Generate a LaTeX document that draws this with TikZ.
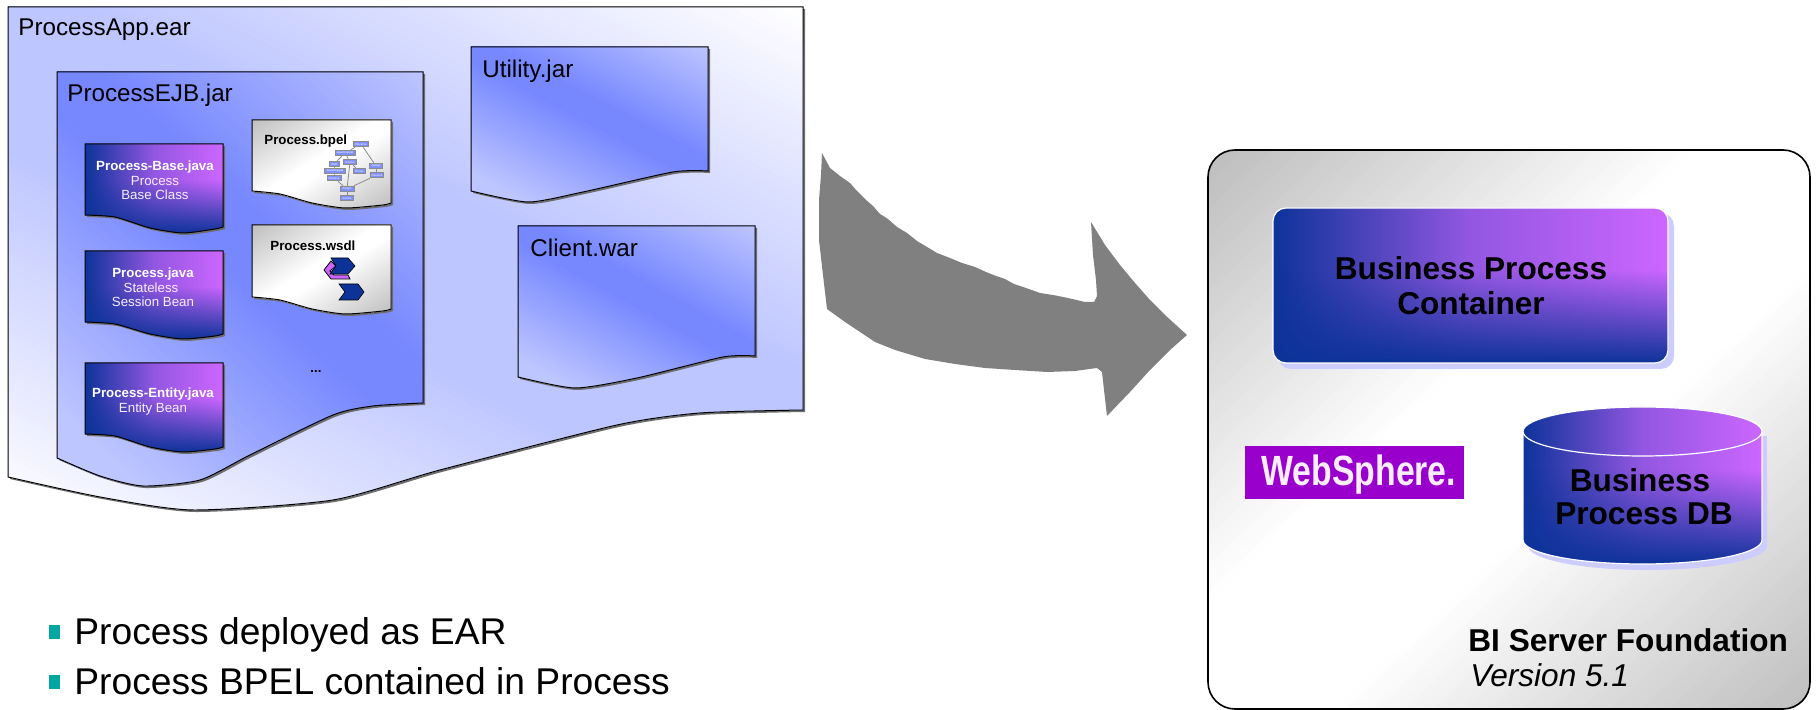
\documentclass[tikz,border=0pt]{standalone}
\usepackage{fontspec}
\setmainfont{Liberation Sans}
\usetikzlibrary{fadings}
\definecolor{navyc}{HTML}{0D3399}
\definecolor{purpc}{HTML}{CC66FF}
\definecolor{bandout}{HTML}{BEC6FF}
\definecolor{bandin}{HTML}{7788FF}
\definecolor{shadowc}{HTML}{6E6E6E}
\definecolor{lavc}{HTML}{CCCCFF}
\definecolor{tealc}{HTML}{00A6A0}
\definecolor{arrowc}{HTML}{808080}
\definecolor{wsc}{HTML}{9900CC}
\definecolor{minibox}{HTML}{7F8FFF}
\definecolor{greyc}{HTML}{BFBFBF}
\pgfdeclareverticalshading{softshade}{100bp}{color(0bp)=(white); color(25bp)=(white); color(55bp)=(black); color(75bp)=(black); color(100bp)=(black)}
\pgfdeclarefading{softfade}{\pgfuseshading{softshade}}
\tikzset{
  purple/.style={left color=navyc, right color=purpc, middle color=purpc!70!navyc},
  lbl/.style={inner sep=0pt, anchor=base west, text=black},
  ctr/.style={inner sep=0pt, anchor=base, text=black},
  big/.style={font=\fontsize{12.1pt}{14pt}\selectfont},
  small/.style={font=\fontsize{6.65pt}{8pt}\selectfont},
  smallb/.style={font=\fontsize{6.65pt}{8pt}\selectfont\bfseries},
  head/.style={font=\fontsize{15.8pt}{18pt}\selectfont\bfseries},
  bullet/.style={font=\fontsize{18.6pt}{22pt}\selectfont},
  tealsq/.style={fill=tealc, draw=none},
  mini/.style={draw=black!45, fill=minibox, line width=0.45pt, minimum width=#1*0.5pt, minimum height=2.8pt, inner sep=0pt, text=white, font=\fontsize{1.5pt}{2pt}\selectfont},
  minilink/.style={draw=black!45, line width=0.4pt}
}
% diagonal three-stop gradient painted band by band inside a clip:
% #1 path, #2 #3 centre, #4 #5 unit axis, #6 half length, #7 end colour, #8 middle colour, #9 plateau
\newcommand{\diagfill}[9]{%
  \begin{scope}
  \clip #1;
  \foreach \idx in {0,...,120}{%
    \pgfmathsetmacro\tval{-1+2*\idx/120}%
    \pgfmathsetmacro\pval{100*max(0,min(1,(abs(\tval)-#9)/(1-#9)))}%
    \pgfmathsetmacro\ax{#2+#4*#6*\tval}%
    \pgfmathsetmacro\ay{#3+#5*#6*\tval}%
    \fill[color=#7!\pval!#8] ({\ax-#5*1500},{\ay+#4*1500}) -- ({\ax+#5*1500},{\ay-#4*1500})
      -- ({\ax+#5*1500+#4*2000},{\ay-#4*1500+#5*2000}) -- ({\ax-#5*1500+#4*2000},{\ay+#4*1500+#5*2000}) -- cycle;
  }%
  \end{scope}}
\newcommand{\docshape}[9]{%
  \fill[shadowc, shift={(2,2)}] #1;
  \diagfill{#1}{#2}{#3}{#4}{#5}{#6}{#7}{#8}{#9}%
  \draw[black, line width=0.5pt] #1;
}
\newcommand{\purpledoc}[1]{%
  \fill[shadowc, shift={(2,2)}] #1;
  \shade[purple] #1;
  \fill[navyc, path fading=softfade] #1;
  \draw[black, line width=0.5pt] #1;
}
\newcommand{\wave}[5]{%
  (#1,#3) -- (#2,#3) -- (#2,#4) -- plot[smooth,tension=0.4] coordinates {(#2,#4) #5} -- cycle}
\begin{document}
\begin{tikzpicture}[x=0.5pt,y=-0.5pt]
\useasboundingbox (0,0) rectangle (1816,710);
% outer EAR
\docshape{\wave{8}{803}{7}{410}{(700,413) (617,425) (440,470) (333,500) (193,510) (100,497) (8,477)}}{405}{258}{-0.454}{0.891}{405}{white}{bandout}{0.2}
% EJB
\docshape{\wave{57}{423}{72}{403}{(373,406) (333,415) (250,455) (200,480) (143,486) (100,476) (57,458)}}{240}{237}{-0.67}{0.74}{250}{bandout}{bandin}{0.12}
% Utility
\docshape{\wave{471}{708}{47}{171}{(673,172) (583,192) (528,202) (471,191)}}{590}{109}{-0.464}{0.886}{112}{bandout}{bandin}{0.1}
% Client
\docshape{\wave{518}{755}{226}{356}{(723,357) (637,378) (575,388) (518,377)}}{636}{291}{-0.481}{0.877}{116}{bandout}{bandin}{0.1}
% Java docs
\purpledoc{\wave{85}{223}{144}{227}{(215,229) (183,233) (150,228) (115,217) (85,215)}}
\purpledoc{\wave{85}{223}{251}{334}{(215,336) (183,339) (150,334) (115,324) (85,322)}}
\purpledoc{\wave{85}{223}{363}{447}{(215,449) (183,452) (150,447) (115,436) (85,434)}}
% white docs
\docshape{\wave{252}{391}{120}{203}{(383,205) (345,208) (312,203) (280,194) (252,191)}}{321}{164}{0.536}{0.847}{74}{greyc}{white}{0.1}
\docshape{\wave{252}{391}{225}{309}{(383,311) (345,314) (312,309) (280,300) (252,297)}}{321}{270}{0.536}{0.847}{74}{greyc}{white}{0.1}
% texts in docs
\node[lbl,big] (ear) at (18,36) {ProcessApp.ear};
\node[lbl,big] (ejb) at (67,102) {ProcessEJB.jar};
\node[lbl,big] (util) at (482,78) {Utility.jar};
\node[lbl,big] (client) at (530,257) {Client.war};
\node[ctr,smallb,text=white] (b1) at (155,171) {Process-Base.java};
\node[ctr,small,text=white!88!purpc] (b2) at (155,185.5) {Process};
\node[ctr,small,text=white!88!purpc] (b3) at (155,199.5) {Base Class};
\node[ctr,smallb,text=white] (j1) at (153,278) {Process.java};
\node[ctr,small,text=white!88!purpc] (j2) at (151,292.5) {Stateless};
\node[ctr,small,text=white!88!purpc] (j3) at (153,307) {Session Bean};
\node[ctr,smallb,text=white] (e1) at (153,398) {Process-Entity.java};
\node[ctr,small,text=white!88!purpc] (e2) at (153,412.5) {Entity Bean};
\node[lbl,smallb] (bpel) at (264,145) {Process.bpel};
\node[lbl,smallb] (wsdl) at (270,251) {Process.wsdl};
\node[ctr,smallb] (dots) at (316,373) {...};
% mini process graph
\node[mini=15] (m1) at (361,144) {Receive};
\node[mini=20] (m2) at (345,153) {JavaSnippet};
\node[mini=10] (m3) at (334,164) {Wait};
\node[mini=13] (m4) at (350,162) {Invoke};
\node[mini=12] (m5) at (359,171) {Throw};
\node[mini=13] (m6) at (376,166) {Assign};
\node[mini=13] (m7) at (377,175) {Receive};
\node[mini=21] (m8) at (335,171) {JavaSnippet};
\node[mini=14] (m9) at (334,178) {Receive};
\node[mini=14] (m10) at (347,189) {Assign};
\node[mini=13] (m11) at (347,198) {Invoke};
\draw[minilink] (m1) -- (m2);
\draw[minilink] (m1) -- (m6);
\draw[minilink] (m2) -- (m3);
\draw[minilink] (m2) -- (m4);
\draw[minilink] (m4) -- (m5);
\draw[minilink] (m4) -- (m10);
\draw[minilink] (m3) -- (m8);
\draw[minilink] (m8) -- (m9);
\draw[minilink] (m9) -- (m10);
\draw[minilink] (m6) -- (m7);
\draw[minilink] (m7) -- (m10);
\draw[minilink] (m10) -- (m11);
% wsdl icons
\fill[purpc, draw=black, line width=0.4pt] (324,270) -- (331,261) -- (336,266) -- (330,271) -- (334,275) -- (348,275) -- (350,279) -- (331,279) -- cycle;
\fill[navyc, draw=black, line width=0.3pt] (331,258) -- (348,258) -- (355,266) -- (348,274) -- (330,274) -- (336,266) -- cycle;
\fill[navyc, draw=black, line width=0.3pt] (339,284) -- (358,284) -- (364,292) -- (358,300) -- (339,300) -- (345,292) -- cycle;
% big arrow
\fill[arrowc] (822,153) -- (830,168) -- (840,176) -- (850,183) -- (857,191) -- (865,199) -- (873,206) -- (880,214) -- (888,219) -- (897,227) -- (907,233) -- (917,241) -- (927,247) -- (937,253) -- (950,258) -- (962,263) -- (975,267) -- (986,272) -- (996,276) -- (1005,279) -- (1014,284) -- (1026,288) -- (1040,293) -- (1053,295) -- (1068,298) -- (1085,302) -- (1094,302) -- (1097,296) -- (1096,280) -- (1093,255) -- (1091,222) -- (1105,245) -- (1120,265) -- (1135,283) -- (1150,300) -- (1165,315) -- (1187,335) -- (1170,350) -- (1150,370) -- (1130,392) -- (1107,416) -- (1104,390) -- (1102,372) -- (1097,368) -- (1075,371) -- (1047,372) -- (1015,370) -- (985,368) -- (955,364) -- (925,359) -- (895,350) -- (875,342) -- (860,332) -- (845,322) -- (827,309) -- (823,275) -- (819,240) -- (819,200) -- (821,175) -- cycle;
% server box
\diagfill{[rounded corners=13.5pt] (1208,150) rectangle (1810,709)}{1509}{430}{0.68}{0.733}{400}{greyc}{white}{0.2}
\draw[black, line width=0.8pt, rounded corners=13.5pt] (1208,150) rectangle (1810,709);
% container
\fill[lavc, rounded corners=6.5pt] (1278,213) rectangle (1674,369);
\shade[purple, rounded corners=6.5pt] (1273,208) rectangle (1668,363);
\fill[navyc, path fading=softfade, rounded corners=6.5pt] (1273,208) rectangle (1668,363);
\draw[white, line width=0.6pt, rounded corners=6.5pt] (1273,208) rectangle (1668,363);
\node[ctr,head] (c1) at (1471,280) {Business Process};
\node[ctr,head] (c2) at (1471,315) {Container};
% DB
\fill[lavc] (1528,436) -- (1528,546) arc[start angle=180, end angle=360, x radius=119.5, y radius=-24] -- (1767,436) -- cycle;
\shade[purple] (1523,431.5) -- (1523,540) arc[start angle=180, end angle=360, x radius=119.5, y radius=-24] -- (1762,431.5) arc[start angle=0, end angle=180, x radius=119.5, y radius=-24.5] -- cycle;
\fill[navyc, path fading=softfade] (1523,431.5) -- (1523,540) arc[start angle=180, end angle=360, x radius=119.5, y radius=-24] -- (1762,431.5) arc[start angle=0, end angle=180, x radius=119.5, y radius=-24.5] -- cycle;
\draw[white, line width=0.6pt] (1523,431.5) -- (1523,540) arc[start angle=180, end angle=360, x radius=119.5, y radius=-24] -- (1762,431.5) arc[start angle=0, end angle=180, x radius=119.5, y radius=-24.5] -- cycle;
\shade[purple] (1642.5,431.5) ellipse[x radius=119.5, y radius=24.5];
\draw[white, line width=0.6pt] (1642.5,431.5) ellipse[x radius=119.5, y radius=24.5];
\node[ctr,head] (d1) at (1640,492) {Business};
\node[ctr,head] (d2) at (1644,525) {Process DB};
% WebSphere logo
\fill[wsc] (1245,446) rectangle (1464,499);
\node[lbl,font=\fontsize{16.9pt}{20pt}\selectfont\bfseries,text=white!88!purpc] (ws) at (1261,486) {\scalebox{1}[1.25]{WebSphere.}};
% server labels
\node[lbl,head] (bi) at (1468,652) {BI Server Foundation};
\node[lbl,font=\fontsize{15.8pt}{18pt}\selectfont\itshape] (ver) at (1470,687) {Version 5.1};
% bullets
\fill[tealsq] (49,625) rectangle (60,639);
\fill[tealsq] (49,675) rectangle (60,689);
\node[lbl,bullet] (t1) at (74,645) {Process deployed as EAR};
\node[lbl,bullet] (t2) at (74,695) {Process BPEL contained in Process};
\end{tikzpicture}
\end{document}
